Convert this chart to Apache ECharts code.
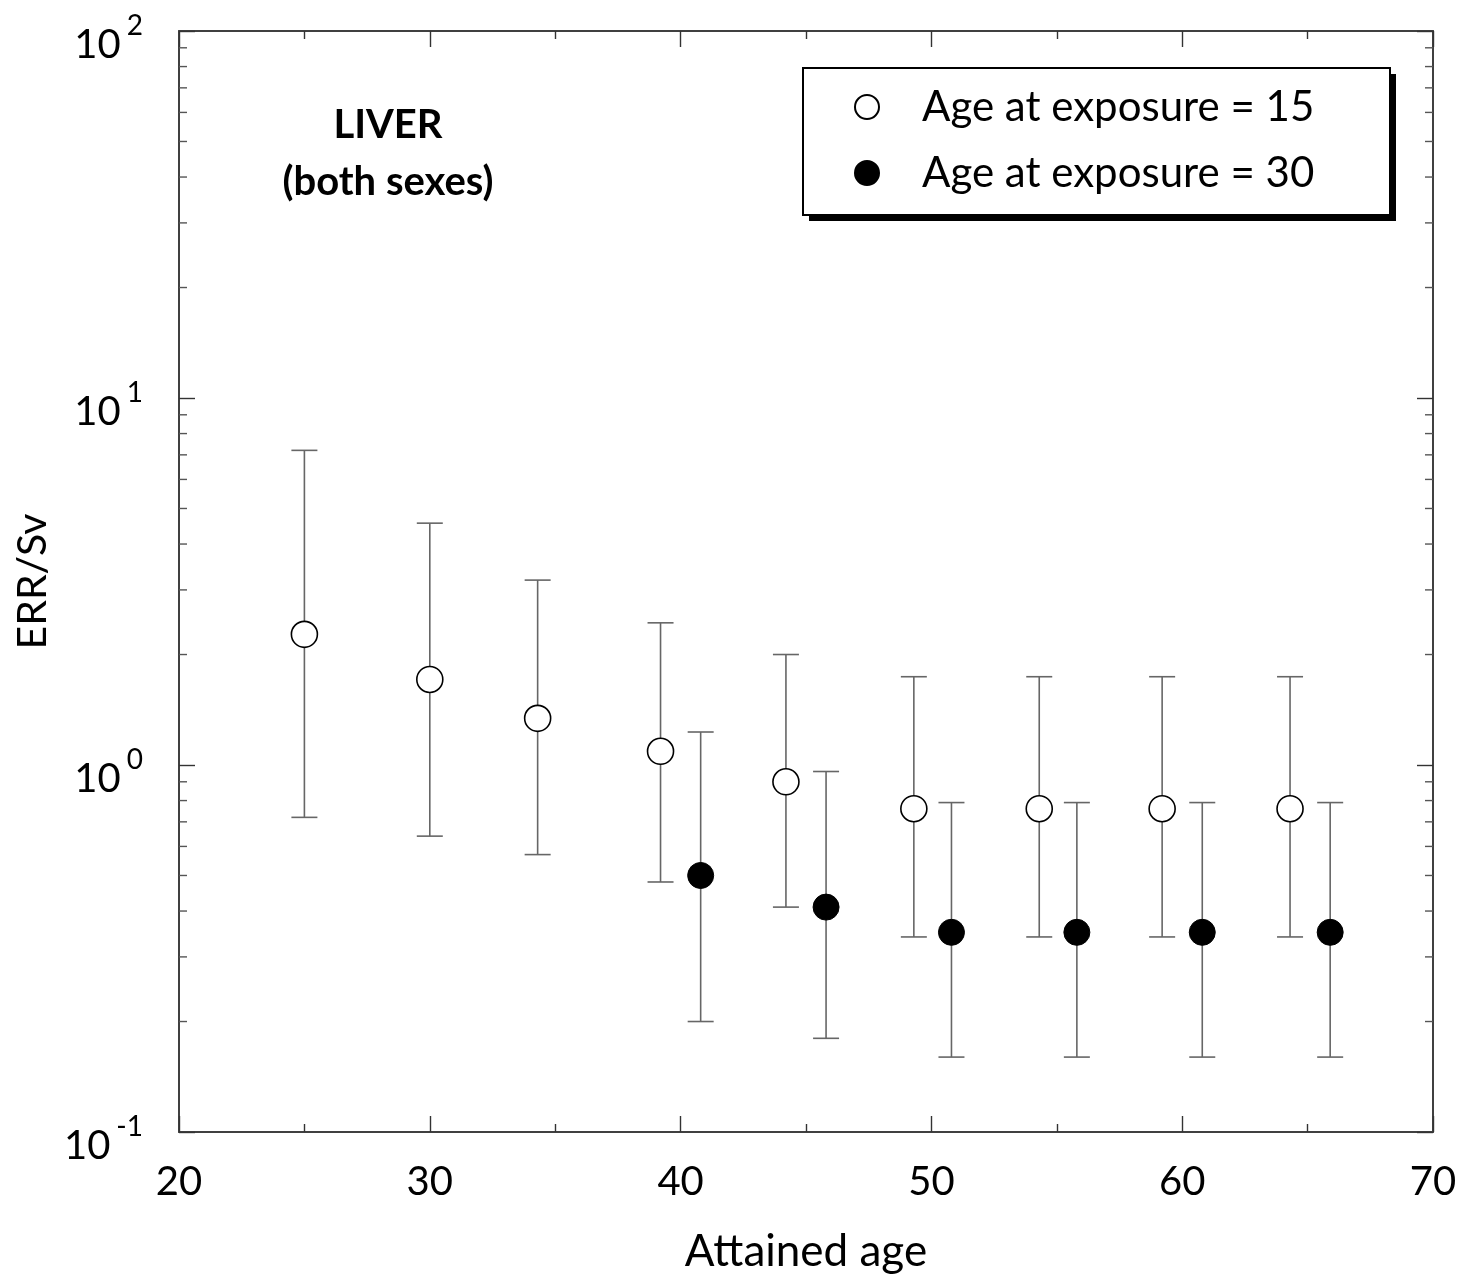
<!DOCTYPE html>
<html>
<head>
<meta charset="utf-8">
<script src="https://cdn.jsdelivr.net/npm/echarts@6/dist/echarts.min.js"></script>
<style>
  html, body { margin: 0; padding: 0; background: #fff; }
  #chart { width: 1468px; height: 1280px; }
</style>
</head>
<body>
<div id="chart"></div>
<script>
/* ---------- data ---------- */
const seriesNames = ['Age at exposure = 15', 'Age at exposure = 30'];

// age at exposure 15 : attained age, ERR/Sv, lower, upper
const age15X   = [25.0, 30.0, 34.3, 39.2, 44.2, 49.3, 54.3, 59.2, 64.3];
const age15Err = [2.27, 1.71, 1.34, 1.09, 0.90, 0.76, 0.76, 0.76, 0.76];
const age15Lo  = [0.72, 0.64, 0.57, 0.48, 0.41, 0.34, 0.34, 0.34, 0.34];
const age15Hi  = [7.2, 4.56, 3.19, 2.44, 2.0, 1.74, 1.74, 1.74, 1.74];

// age at exposure 30
const age30X   = [40.8, 45.8, 50.8, 55.8, 60.8, 65.9];
const age30Err = [0.50, 0.41, 0.35, 0.35, 0.35, 0.35];
const age30Lo  = [0.20, 0.18, 0.16, 0.16, 0.16, 0.16];
const age30Hi  = [1.23, 0.96, 0.79, 0.79, 0.79, 0.79];

// minor ticks of the log axis
const yMinorTicks = [0.2, 0.3, 0.4, 0.5, 0.6, 0.7, 0.8, 0.9,
                     2, 3, 4, 5, 6, 7, 8, 9,
                     20, 30, 40, 50, 60, 70, 80, 90];

const FONT = 'Lato';
const FRAME = '#404040';

/* ---------- helpers ---------- */
const pts = (xs, ys) => xs.map((x, i) => [x, ys[i]]);
const bars = (xs, lo, hi) => xs.map((x, i) => [x, lo[i], hi[i]]);

function errorBarItem(params, api) {
    const x = api.value(0);
    const lo = api.coord([x, api.value(1)]);
    const hi = api.coord([x, api.value(2)]);
    const half = 13;
    const style = { stroke: '#666', lineWidth: 1.6 };
    return {
        type: 'group',
        children: [
            { type: 'line', shape: { x1: lo[0], y1: lo[1], x2: hi[0], y2: hi[1] }, style },
            { type: 'line', shape: { x1: lo[0] - half, y1: lo[1], x2: lo[0] + half, y2: lo[1] }, style },
            { type: 'line', shape: { x1: hi[0] - half, y1: hi[1], x2: hi[0] + half, y2: hi[1] }, style }
        ]
    };
}

function minorTickItem(params, api) {
    const v = api.value(0);
    const l = api.coord([20, v]);
    const r = api.coord([70, v]);
    const style = { stroke: '#555', lineWidth: 1.4 };
    return {
        type: 'group',
        children: [
            { type: 'line', shape: { x1: l[0], y1: l[1], x2: l[0] + 8, y2: l[1] }, style },
            { type: 'line', shape: { x1: r[0], y1: r[1], x2: r[0] - 8, y2: r[1] }, style }
        ]
    };
}

const xCommon = {
    type: 'value', min: 20, max: 70, interval: 10,
    axisLine: { show: true, onZero: false, lineStyle: { color: FRAME, width: 2 } },
    axisTick: { show: true, inside: true, length: 16, lineStyle: { color: '#333', width: 1.4 } },
    minorTick: { show: true, splitNumber: 2, length: 8, lineStyle: { color: '#333', width: 1.4 } },
    splitLine: { show: false }
};
const yCommon = {
    type: 'log', logBase: 10, min: 0.1, max: 100,
    axisLine: { show: true, onZero: false, lineStyle: { color: FRAME, width: 2 } },
    axisTick: { show: true, inside: true, length: 16, lineStyle: { color: '#333', width: 1.4 } },
    splitLine: { show: false }
};

/* ---------- chart ---------- */
const chart = echarts.init(document.getElementById('chart'));
chart.setOption({
    backgroundColor: '#fff',
    animation: false,
    textStyle: { fontFamily: FONT },
    title: {
        text: 'LIVER\n(both sexes)',
        left: 383, top: 92, textAlign: 'center',
        textStyle: { fontFamily: FONT, fontSize: 40, fontWeight: 'bold', color: '#000', lineHeight: 57 }
    },
    // legend box with hard shadow
    graphic: [
        { type: 'rect', z: 1, silent: true, shape: { x: 809, y: 74, width: 587, height: 147 }, style: { fill: '#000' } },
        { type: 'rect', z: 2, silent: true, shape: { x: 803, y: 68, width: 587, height: 147 }, style: { fill: '#fff', stroke: '#000', lineWidth: 2 } }
    ],
    grid: { left: 179, top: 31, width: 1254, height: 1101, outerBoundsMode: 'none', containLabel: false },
    legend: {
        data: seriesNames,
        orient: 'vertical',
        left: 854, top: 85,
        padding: 0, z: 10,
        itemWidth: 24, itemHeight: 24, itemGap: 22,
        icon: 'circle',
        textStyle: { fontFamily: FONT, fontSize: 42, color: '#000', padding: [0, 0, 0, 38], lineHeight: 44 }
    },
    xAxis: [
        Object.assign({}, xCommon, {
            position: 'bottom',
            name: 'Attained age', nameLocation: 'middle', nameGap: 98,
            nameTextStyle: { fontFamily: FONT, fontSize: 44, color: '#000' },
            axisLabel: { fontFamily: FONT, fontSize: 40, color: '#000', margin: 30 }
        }),
        Object.assign({}, xCommon, { position: 'top', axisLabel: { show: false } })
    ],
    yAxis: [
        Object.assign({}, yCommon, {
            position: 'left',
            name: 'ERR/Sv', nameLocation: 'middle', nameGap: 112,
            nameTextStyle: { fontFamily: FONT, fontSize: 41, color: '#000' },
            axisLabel: {
                margin: 36,
                formatter: v => '{b|10}{s|' + Math.round(Math.log10(v)) + '}',
                rich: {
                    b: { fontFamily: FONT, fontSize: 40, color: '#000', lineHeight: 44, verticalAlign: 'middle', padding: [28, 6, 0, 0] },
                    s: { fontFamily: FONT, fontSize: 28, color: '#000', lineHeight: 28, verticalAlign: 'middle', padding: [0, 0, 10, 0] }
                }
            }
        }),
        Object.assign({}, yCommon, { position: 'right', axisLabel: { show: false } })
    ],
    series: [
        {
            name: 'yMinor', type: 'custom', silent: true, z: 1,
            xAxisIndex: 0, yAxisIndex: 0,
            renderItem: minorTickItem,
            data: yMinorTicks.map(v => [v])
        },
        {
            name: 'err15', type: 'custom', silent: true, z: 2,
            renderItem: errorBarItem,
            data: bars(age15X, age15Lo, age15Hi)
        },
        {
            name: 'err30', type: 'custom', silent: true, z: 2,
            renderItem: errorBarItem,
            data: bars(age30X, age30Lo, age30Hi)
        },
        {
            name: seriesNames[0], type: 'scatter', z: 3,
            symbol: 'circle', symbolSize: 26,
            itemStyle: { color: '#fff', borderColor: '#000', borderWidth: 1.6, opacity: 1 },
            data: pts(age15X, age15Err)
        },
        {
            name: seriesNames[1], type: 'scatter', z: 3,
            symbol: 'circle', symbolSize: 26,
            itemStyle: { color: '#000', borderColor: '#000', borderWidth: 1, opacity: 1 },
            data: pts(age30X, age30Err)
        }
    ]
});
</script>
</body>
</html>
